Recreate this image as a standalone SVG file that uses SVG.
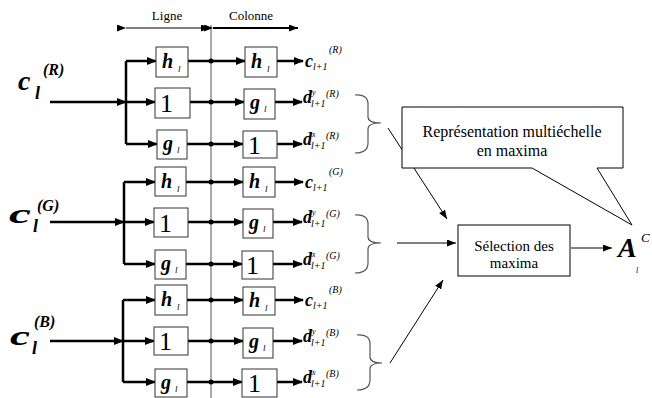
<svg xmlns="http://www.w3.org/2000/svg" width="652" height="398" viewBox="0 0 652 398">
<style>
.bx{fill:#fff;stroke:#333;stroke-width:1}
.th{fill:none;stroke:#000;stroke-width:2.5}
.tn{fill:none;stroke:#000;stroke-width:1}
.br{fill:none;stroke:#555;stroke-width:1.2}
.sf{font-family:'Liberation Serif','DejaVu Serif','Noto Serif',serif}
.bi{font-family:'Liberation Serif','DejaVu Serif','Noto Serif',serif;font-weight:bold;font-style:italic}
.it{font-family:'Liberation Serif','DejaVu Serif','Noto Serif',serif;font-style:italic}
.hb{font-size:20px}
.one{font-size:26px}
.sub{font-size:9px}
.lab{font-size:18px}
.sm{font-size:10px}
</style>
<defs>
<marker id="ah" markerUnits="userSpaceOnUse" markerWidth="10" markerHeight="8" refX="9" refY="4" orient="auto"><path d="M0,0 L10,4 L0,8 z" fill="#000"/></marker>
<marker id="as" markerUnits="userSpaceOnUse" markerWidth="9" markerHeight="7" refX="9" refY="3.5" orient="auto"><path d="M0,0 L9,3.5 L0,7 z" fill="#000"/></marker>
</defs>
<rect width="652" height="398" fill="#fff"/>

<g id="header">
<line x1="211" y1="25" x2="211" y2="398" stroke="#aaa" stroke-width="2"/>
<line x1="126" y1="28" x2="210" y2="28" stroke="#000" stroke-width="1.2" marker-start="url(#as)" marker-end="url(#as)"/>
<line x1="213" y1="28" x2="298" y2="28" stroke="#000" stroke-width="2" marker-start="url(#as)" marker-end="url(#as)"/>
<text class="sf" x="167" y="20" font-size="13" text-anchor="middle">Ligne</text>
<text class="sf" x="251" y="20" font-size="13" text-anchor="middle">Colonne</text>
</g>

<g id="connectors">
<path class="th" d="M126,61 V144"/>
<path class="th" d="M50,102 H126" marker-end="url(#ah)"/>
<path class="th" d="M126,61 H156" marker-end="url(#ah)"/>
<path class="th" d="M126,102 H155" marker-end="url(#ah)"/>
<path class="th" d="M126,144 H157" marker-end="url(#ah)"/>
<path class="th" d="M188,61 H245" marker-end="url(#ah)"/>
<path class="th" d="M190,102 H244" marker-end="url(#ah)"/>
<path class="th" d="M187,144 H243" marker-end="url(#ah)"/>
<path class="th" d="M277,61 H303" marker-end="url(#ah)"/>
<path class="th" d="M275,102 H302" marker-end="url(#ah)"/>
<path class="th" d="M277,144 H302" marker-end="url(#ah)"/>
<path class="th" d="M124,182 V264"/>
<path class="th" d="M50,222 H124" marker-end="url(#ah)"/>
<path class="th" d="M124,182 H155" marker-end="url(#ah)"/>
<path class="th" d="M124,222 H154" marker-end="url(#ah)"/>
<path class="th" d="M124,264 H155" marker-end="url(#ah)"/>
<path class="th" d="M186,182 H243" marker-end="url(#ah)"/>
<path class="th" d="M188,222 H243" marker-end="url(#ah)"/>
<path class="th" d="M186,264 H242" marker-end="url(#ah)"/>
<path class="th" d="M275,182 H303" marker-end="url(#ah)"/>
<path class="th" d="M273,222 H302" marker-end="url(#ah)"/>
<path class="th" d="M273,264 H302" marker-end="url(#ah)"/>
<path class="th" d="M123,300 V382"/>
<path class="th" d="M50,341 H123" marker-end="url(#ah)"/>
<path class="th" d="M123,300 H155" marker-end="url(#ah)"/>
<path class="th" d="M123,341 H154" marker-end="url(#ah)"/>
<path class="th" d="M123,382 H155" marker-end="url(#ah)"/>
<path class="th" d="M187,300 H243" marker-end="url(#ah)"/>
<path class="th" d="M188,341 H243" marker-end="url(#ah)"/>
<path class="th" d="M187,382 H242" marker-end="url(#ah)"/>
<path class="th" d="M275,300 H303" marker-end="url(#ah)"/>
<path class="th" d="M273,341 H302" marker-end="url(#ah)"/>
<path class="th" d="M277,382 H302" marker-end="url(#ah)"/>
<g fill="#000">
<circle cx="211" cy="61" r="2.5"/><circle cx="211" cy="102" r="2.5"/><circle cx="211" cy="144" r="2.5"/>
<circle cx="211" cy="182" r="2.5"/><circle cx="211" cy="222" r="2.5"/><circle cx="211" cy="264" r="2.5"/>
<circle cx="211" cy="300" r="2.5"/><circle cx="211" cy="341" r="2.5"/><circle cx="211" cy="382" r="2.5"/>
</g>
<path class="br" d="M355,95 Q368,94 368,104 V117 Q368,123 381,123 Q368,123 368,129 V143 Q368,153 355,153"/>
<path class="br" d="M355,215 Q368,214 368,224 V237 Q368,243 381,243 Q368,243 368,249 V263 Q368,273 355,273"/>
<path class="br" d="M357,335 Q370,334 370,344 V357 Q370,363 382,363 Q370,363 370,369 V380 Q370,390 357,390"/>
<path class="tn" d="M388,128 L447,219" marker-end="url(#as)"/>
<path class="tn" d="M397,243 L456,243" marker-end="url(#as)"/>
<path class="tn" d="M390,363 L443,280" marker-end="url(#as)"/>
<path class="tn" d="M571,248 L612,248" marker-end="url(#as)"/>
</g>

<g id="input-R">
<text class="bi" x="18" y="90" font-size="28">c</text>
<text class="bi" x="35" y="99" font-size="18">l</text>
<text class="bi" x="43" y="75" font-size="16">(R)</text>
</g>
<g id="input-G">
<text class="bi" x="9" y="223" font-size="28" textLength="22" lengthAdjust="spacingAndGlyphs">c</text>
<text class="bi" x="33" y="232" font-size="18">l</text>
<text class="bi" x="37" y="211" font-size="16">(G)</text>
</g>
<g id="input-B">
<text class="bi" x="10" y="345" font-size="28" textLength="20" lengthAdjust="spacingAndGlyphs">c</text>
<text class="bi" x="32" y="354" font-size="18">l</text>
<text class="bi" x="34" y="327" font-size="16">(B)</text>
</g>

<g id="R-line-h"><rect class="bx" x="156" y="47" width="32" height="30"/><text class="bi hb" x="162" y="68">h</text><text class="it sub" x="178" y="72">l</text></g>
<g id="R-line-1"><rect class="bx" x="155" y="88" width="35" height="30"/><text class="sf one" x="160" y="112">1</text></g>
<g id="R-line-g"><rect class="bx" x="157" y="130" width="30" height="29"/><text class="bi hb" x="163" y="150">g</text><text class="it sub" x="177" y="153">l</text></g>
<g id="R-col-h"><rect class="bx" x="245" y="47" width="32" height="30"/><text class="bi hb" x="251" y="68">h</text><text class="it sub" x="267" y="72">l</text></g>
<g id="R-col-g"><rect class="bx" x="244" y="89" width="31" height="30"/><text class="bi hb" x="250" y="109">g</text><text class="it sub" x="264" y="112">l</text></g>
<g id="R-col-1"><rect class="bx" x="243" y="131" width="34" height="27"/><text class="sf one" x="248" y="154">1</text></g>

<g id="G-line-h"><rect class="bx" x="155" y="167" width="31" height="29"/><text class="bi hb" x="161" y="188">h</text><text class="it sub" x="177" y="192">l</text></g>
<g id="G-line-1"><rect class="bx" x="154" y="208" width="34" height="29"/><text class="sf one" x="159" y="232">1</text></g>
<g id="G-line-g"><rect class="bx" x="155" y="250" width="31" height="29"/><text class="bi hb" x="161" y="270">g</text><text class="it sub" x="175" y="273">l</text></g>
<g id="G-col-h"><rect class="bx" x="243" y="167" width="32" height="30"/><text class="bi hb" x="249" y="188">h</text><text class="it sub" x="265" y="192">l</text></g>
<g id="G-col-g"><rect class="bx" x="243" y="209" width="30" height="29"/><text class="bi hb" x="249" y="229">g</text><text class="it sub" x="263" y="232">l</text></g>
<g id="G-col-1"><rect class="bx" x="242" y="251" width="31" height="28"/><text class="sf one" x="246" y="274">1</text></g>

<g id="B-line-h"><rect class="bx" x="155" y="285" width="32" height="30"/><text class="bi hb" x="161" y="306">h</text><text class="it sub" x="177" y="310">l</text></g>
<g id="B-line-1"><rect class="bx" x="154" y="327" width="34" height="28"/><text class="sf one" x="159" y="350">1</text></g>
<g id="B-line-g"><rect class="bx" x="155" y="369" width="32" height="28"/><text class="bi hb" x="161" y="389">g</text><text class="it sub" x="175" y="392">l</text></g>
<g id="B-col-h"><rect class="bx" x="243" y="287" width="32" height="28"/><text class="bi hb" x="249" y="307">h</text><text class="it sub" x="265" y="311">l</text></g>
<g id="B-col-g"><rect class="bx" x="243" y="328" width="30" height="30"/><text class="bi hb" x="249" y="348">g</text><text class="it sub" x="263" y="351">l</text></g>
<g id="B-col-1"><rect class="bx" x="242" y="369" width="35" height="28"/><text class="sf one" x="248" y="392">1</text></g>

<g id="out-R-c"><text class="bi lab" x="305" y="67">c</text><text class="it sm" x="313" y="70">l+1</text><text class="it sm" x="329" y="53">(R)</text></g>
<g id="out-R-dy"><text class="bi lab" x="303" y="103">d</text><text class="it" font-size="8" x="312" y="95">y</text><text class="it sm" x="311" y="107">l+1</text><text class="it sm" x="326" y="97">(R)</text></g>
<g id="out-R-dx"><text class="bi lab" x="303" y="145">d</text><text class="it" font-size="8" x="312" y="137">x</text><text class="it sm" x="311" y="149">l+1</text><text class="it sm" x="326" y="139">(R)</text></g>
<g id="out-G-c"><text class="bi lab" x="305" y="188">c</text><text class="it sm" x="313" y="191">l+1</text><text class="it sm" x="329" y="175">(G)</text></g>
<g id="out-G-dy"><text class="bi lab" x="303" y="223">d</text><text class="it" font-size="8" x="312" y="215">y</text><text class="it sm" x="311" y="227">l+1</text><text class="it sm" x="326" y="217">(G)</text></g>
<g id="out-G-dx"><text class="bi lab" x="303" y="265">d</text><text class="it" font-size="8" x="312" y="257">x</text><text class="it sm" x="311" y="269">l+1</text><text class="it sm" x="326" y="259">(G)</text></g>
<g id="out-B-c"><text class="bi lab" x="305" y="306">c</text><text class="it sm" x="313" y="309">l+1</text><text class="it sm" x="329" y="293">(B)</text></g>
<g id="out-B-dy"><text class="bi lab" x="303" y="342">d</text><text class="it" font-size="8" x="312" y="334">y</text><text class="it sm" x="311" y="346">l+1</text><text class="it sm" x="326" y="336">(B)</text></g>
<g id="out-B-dx"><text class="bi lab" x="303" y="383">d</text><text class="it" font-size="8" x="312" y="375">x</text><text class="it sm" x="311" y="387">l+1</text><text class="it sm" x="326" y="377">(B)</text></g>

<g id="callout">
<path d="M402,107 H623 V168 H597 L632,225 L532,168 H402 Z" fill="#fff" stroke="#000" stroke-width="1"/>
<text class="sf" x="512" y="137" font-size="16" text-anchor="middle">Représentation multiéchelle</text>
<text class="sf" x="512" y="156" font-size="16" text-anchor="middle">en maxima</text>
</g>

<g id="selection">
<rect x="458" y="225" width="112" height="51" fill="#fff" stroke="#000" stroke-width="1"/>
<text class="sf" x="514" y="251" font-size="15" text-anchor="middle">Sélection des</text>
<text class="sf" x="514" y="268" font-size="15" text-anchor="middle">maxima</text>
</g>

<g id="result">
<text class="bi" x="618" y="257" font-size="28">A</text>
<text class="it" x="636" y="273" font-size="8">l</text>
<text class="it" x="641" y="242" font-size="13">C</text>
</g>
</svg>
